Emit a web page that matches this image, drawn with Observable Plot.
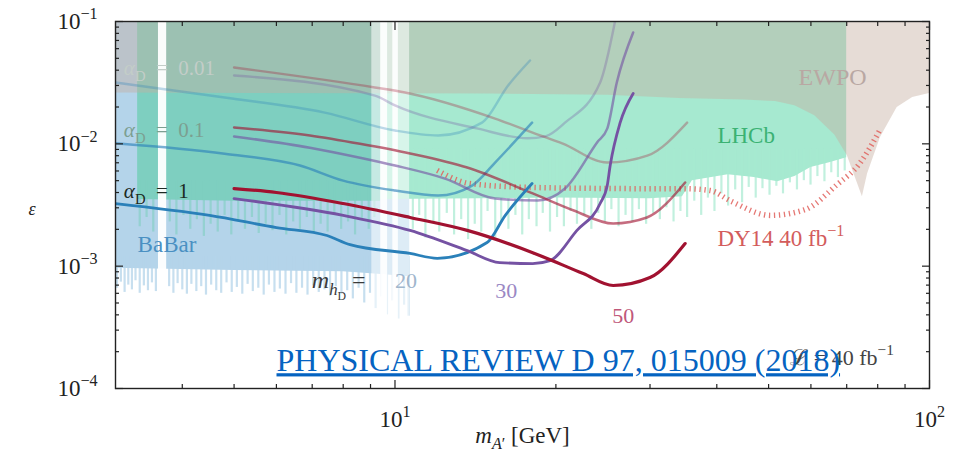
<!DOCTYPE html>
<html><head><meta charset="utf-8">
<script src="https://cdn.jsdelivr.net/npm/d3@7"></script>
<script src="https://cdn.jsdelivr.net/npm/@observablehq/plot@0.6"></script>
<style>html,body{margin:0;padding:0;background:#fff;} #chart{width:955px;height:464px;overflow:hidden}</style>
</head><body><div id="chart"></div>
<script>
// ---- sensitivity curves [m_A' (GeV), epsilon] ----
const alpha001_m20 = [[3,0.0317],[4.8,0.0239],[7.39,0.018],[10,0.01285],[12.04,0.0117],[14.55,0.0149],[16.28,0.030],[17.89,0.048]];
const alpha001_m30 = [[5,0.0362],[9.17,0.0248],[10,0.0206],[14.3,0.0133],[17.7,0.0111],[19.1,0.0115],[20.8,0.0149],[24.2,0.0317],[25.8,0.1]];
const alpha001_m50 = [[5,0.0421],[9.17,0.0289],[10.44,0.0263],[15.39,0.0161],[18.69,0.0117],[20.55,0.0101],[24.95,0.00703],[29.65,0.0080],[35.2,0.0149]];
const alpha01_m20 = [[3,0.0101],[4.8,0.0083],[6.64,0.00665],[8,0.0050],[10,0.00415],[12.04,0.00378],[13.94,0.00456],[15.39,0.00703],[18.05,0.0149]];
const alpha01_m30 = [[5,0.0115],[6.93,0.0093],[8.6,0.0077],[10,0.00665],[12.4,0.0052],[15.4,0.00357],[18.5,0.00344],[20.8,0.00431],[23.9,0.0103],[24.95,0.0133],[26.0,0.0317],[27.9,0.0813]];
const alpha01_m50 = [[5,0.0136],[6.93,0.0117],[8.6,0.0100],[10.67,0.00834],[13.65,0.0064],[18.1,0.00393],[21.6,0.00285],[25.6,0.00223],[29.6,0.0025],[34.9,0.00483]];
const alpha1_m20 = [[3,0.00325],[4.5,0.0026],[6,0.00207],[7.46,0.00178],[8.24,0.0015],[10.67,0.00127],[12,0.00116],[14.87,0.00156],[16.07,0.00259],[18.05,0.00474]];
const alpha1_m30 = [[5,0.00357],[8,0.0026],[10.67,0.00196],[13.65,0.00134],[15.7,0.00107],[18.1,0.00105],[19.5,0.00111],[21.9,0.00196],[24.2,0.00325],[24.95,0.00456],[25.27,0.00665],[26.38,0.0149],[27.9,0.0258]];
const alpha1_m50 = [[5,0.00431],[6,0.0040],[8,0.00325],[10.67,0.0025],[13.65,0.00196],[18.1,0.00129],[22.5,0.00087],[25.6,0.000695],[30,0.000807],[34.9,0.00153]];
const dy14 = [[12,0.00606],[13.8,0.00474],[18,0.0044],[30,0.0043],[35,0.0043],[38.9,0.00415],[42.5,0.0034],[50.5,0.0026],[58.5,0.0029],[67,0.0046],[74,0.0069],[81,0.0133]];

// ---- excluded regions: lower edges (upper edge = top of plot) ----
const ewpoEdge = [[3,0.026],[15,0.0255],[25,0.025],[34,0.0235],[45,0.0228],[51.5,0.0222],[56,0.0205],[61,0.017],[66.5,0.0118],[70.2,0.0080],[74.9,0.0037],[76.6,0.0057],[81,0.0113],[87,0.0198],[93,0.0239],[100,0.0258]];
const babarEdge = [[3.0,9.6e-4],[5,9.2e-4],[8,9.0e-4],[9.3,8.6e-4],[10.65,8.2e-4]];
const babarSpikes = [[3.02,6.6e-4],[3.07,7.4e-4],[3.12,6.1e-4],[3.17,7.0e-4],[3.22,6.4e-4],[3.27,7.6e-4],[3.33,6.0e-4],[3.39,6.9e-4],[3.45,6.3e-4],[3.51,7.3e-4],[3.57,6.2e-4],[3.78,6.8e-4],[3.85,6.0e-4],[3.92,7.2e-4],[4.0,6.4e-4],[4.08,5.9e-4],[4.16,7.1e-4],[4.25,6.2e-4],[4.34,6.8e-4],[4.43,5.8e-4],[4.53,7.0e-4],[4.63,6.3e-4],[4.73,6.0e-4],[4.84,7.3e-4],[4.95,6.1e-4],[5.06,6.7e-4],[5.18,5.9e-4],[5.3,7.1e-4],[5.42,6.2e-4],[5.55,6.6e-4],[5.68,5.8e-4],[5.81,7.0e-4],[5.95,6.1e-4],[6.09,6.5e-4],[6.24,5.9e-4],[6.39,7.2e-4],[6.54,6.0e-4],[6.7,6.6e-4],[6.86,5.8e-4],[7.03,6.9e-4],[7.2,6.1e-4],[7.38,6.4e-4],[7.56,5.7e-4],[7.75,6.8e-4],[7.94,5.9e-4],[8.14,6.3e-4],[8.34,5.4e-4],[8.55,6.6e-4],[8.76,5.0e-4],[8.98,6.0e-4],[9.2,4.5e-4],[9.43,5.6e-4],[9.66,4.0e-4],[9.9,5.2e-4],[10.15,3.7e-4],[10.4,4.8e-4],[10.6,3.9e-4]];
const lhcbLeftEdge = [[3.3,3.5e-3],[5,3.4e-3],[9.4,3.4e-3]];
const lhcbRightEdge = [[9.4,3.5e-3],[20,3.6e-3],[30,3.55e-3],[34.5,3.7e-3],[36,5.0e-3],[42,5.6e-3],[47,5.3e-3],[52,4.9e-3],[56,5.4e-3],[60,6.4e-3],[65,7.0e-3],[70,7.7e-3]];
const lhcbLeftSpikes = [[3.33,2.1e-3],[3.43,2.5e-3],[3.53,1.9e-3],[3.79,2.3e-3],[3.9,1.8e-3],[4.02,2.6e-3],[4.14,2.0e-3],[4.26,2.4e-3],[4.39,1.75e-3],[4.52,2.2e-3],[4.66,1.9e-3],[4.8,2.6e-3],[4.94,1.8e-3],[5.09,2.3e-3],[5.24,2.0e-3],[5.4,2.5e-3],[5.56,1.85e-3],[5.73,2.2e-3],[5.9,1.95e-3],[6.08,2.6e-3],[6.26,1.8e-3],[6.45,2.3e-3],[6.64,2.0e-3],[6.84,2.5e-3],[7.05,1.85e-3],[7.26,2.2e-3],[7.48,1.9e-3],[7.7,2.6e-3],[7.93,2.0e-3],[8.17,2.3e-3],[8.42,1.8e-3],[8.67,2.4e-3],[8.93,2.0e-3],[9.15,2.5e-3]];
const lhcbRightSpikes = [[10.8,2.0e-3],[11.1,2.6e-3],[11.4,1.7e-3],[11.8,2.3e-3],[12.1,1.9e-3],[12.5,2.7e-3],[12.9,1.8e-3],[13.3,2.4e-3],[13.7,1.65e-3],[14.1,2.2e-3],[14.5,1.9e-3],[14.9,2.8e-3],[15.4,1.7e-3],[15.8,2.3e-3],[16.3,2.0e-3],[16.8,2.6e-3],[17.3,1.8e-3],[17.8,2.4e-3],[18.4,2.1e-3],[18.9,2.7e-3],[19.5,1.9e-3],[20.1,2.5e-3],[20.7,2.1e-3],[21.3,2.8e-3],[21.9,2.2e-3],[22.6,2.6e-3],[23.3,2.0e-3],[24.0,2.7e-3],[24.7,2.3e-3],[25.4,2.9e-3],[26.2,2.1e-3],[27.0,2.6e-3],[27.8,2.3e-3],[28.6,2.9e-3],[29.5,2.2e-3],[30.4,2.7e-3],[31.3,2.4e-3],[32.2,3.0e-3],[33.2,2.3e-3],[34.2,2.8e-3],[35.2,2.5e-3],[36.3,3.4e-3],[37.4,2.6e-3],[38.5,3.6e-3],[39.6,2.8e-3],[40.8,3.9e-3],[42.0,3.1e-3],[43.3,4.2e-3],[44.6,3.3e-3],[45.9,4.4e-3],[47.3,3.6e-3],[48.7,4.3e-3],[50.2,3.8e-3],[51.7,4.5e-3],[53.2,3.9e-3],[54.8,4.8e-3],[56.5,4.2e-3],[58.2,5.0e-3],[59.9,4.6e-3],[61.7,5.4e-3],[63.6,4.9e-3],[65.5,5.8e-3],[67.4,5.3e-3],[69.4,6.0e-3]];
// resonance vetoes (psi', Upsilon)
const vetoFull = [[3.61,3.74],[9.4,9.7],[9.9,10.15]];
const vetoPartial = [[9.05,9.4],[9.7,9.9],[10.15,10.65]];

// ---- ticks ----
const xMajor = [10, 100];
const xMinor = [4,5,6,7,8,9,20,30,40,50,60,70,80,90];
const yMajor = [1e-4, 1e-3, 1e-2, 1e-1];
const yMinor = [2e-4,3e-4,4e-4,5e-4,6e-4,7e-4,8e-4,9e-4,2e-3,3e-3,4e-3,5e-3,6e-3,7e-3,8e-3,9e-3,2e-2,3e-2,4e-2,5e-2,6e-2,7e-2,8e-2,9e-2];

// ---- annotations ----
const alphaLabels = [{x:3.11,y:0.0413,t:"$α$_{D}\u2002=\u20020.01"},{x:3.11,y:0.0129,t:"$α$_{D}\u2002=\u20020.1"},{x:3.11,y:0.0041,t:"$α$_{D}\u2002=\u20021"}];
const regionLabels = [{x:3.3,y:1.5e-3,t:"BaBar"},{x:40.1,y:0.0117,t:"LHCb"},{x:56.9,y:0.0349,t:"EWPO"},{x:40.1,y:1.68e-3,t:"DY14 40 fb^{−1}"}];
const massLabels = [{x:10.0,y:7.6e-4,t:"20"},{x:15.4,y:6.3e-4,t:"30"},{x:25.5,y:3.95e-4,t:"50"}];

const SERIF = "'Liberation Serif','Times New Roman',serif";
const RED = "#a11230", PUR = "#7552a3", BLU = "#2a80b9";
const BABAR = "#b4d4ea", TEAL = "#7ecfc0", MINT = "#a6e9d0";
const X = d => d[0], Y = d => d[1];
const ln = (data, stroke, op, w) => Plot.line(data, {x: X, y: Y, stroke, strokeOpacity: op, strokeWidth: w, curve: "monotone-x", strokeLinejoin: "round", clip: true});
const lbl = (data, i, fill, fontSize) => Plot.text(data, {x: "x", y: "y", text: "t", textAnchor: "start", fontSize, fill, filter: (d, j) => j === i});
const axOpts = {stroke: "#222", strokeWidth: 1.2, fontSize: 23, fontFamily: SERIF, fill: "#222", label: null};

const chart = Plot.plot({
  width: 955, height: 464,
  marginLeft: 115, marginRight: 26, marginTop: 21, marginBottom: 76,
  x: {type: "log", domain: [3, 100]},
  y: {type: "log", domain: [1e-4, 0.1]},
  style: {fontFamily: SERIF, background: "white"},
  marks: [
    Plot.areaY(babarEdge, {x: X, y1: Y, y2: 0.1, fill: BABAR}),
    Plot.ruleX(babarSpikes, {x: X, y1: Y, y2: 1.2e-3, stroke: BABAR, strokeWidth: 2.2, strokeOpacity: 0.75}),
    Plot.areaY(lhcbLeftEdge, {x: X, y1: Y, y2: 0.1, fill: TEAL}),
    Plot.ruleX(lhcbLeftSpikes, {x: X, y1: Y, y2: 0.005, stroke: TEAL, strokeWidth: 2.2, strokeOpacity: 0.6}),
    Plot.areaY(lhcbRightEdge, {x: X, y1: Y, y2: 0.1, fill: MINT}),
    Plot.ruleX(lhcbRightSpikes, {x: X, y1: Y, y2: 0.009, stroke: MINT, strokeWidth: 2.2, strokeOpacity: 0.7}),
    Plot.areaY(ewpoEdge, {x: X, y1: Y, y2: 0.1, fill: "#c4ad9f", fillOpacity: 0.43}),
    Plot.rect(vetoPartial, {x1: X, x2: Y, fill: "white", fillOpacity: 0.55}),
    Plot.rect(vetoFull, {x1: X, x2: Y, fill: "white", fillOpacity: 0.95}),
    Plot.line(dy14, {x: X, y: Y, stroke: "#e0605c", strokeOpacity: 0.85, strokeWidth: 5.5, strokeDasharray: "1.3,3.7", strokeLinecap: "butt", curve: "monotone-x"}),
    ln(alpha001_m20, BLU, 0.3, 2.4), ln(alpha001_m30, PUR, 0.3, 2.4), ln(alpha001_m50, RED, 0.3, 2.4),
    ln(alpha01_m20, BLU, 0.62, 2.5), ln(alpha01_m30, PUR, 0.62, 2.5), ln(alpha01_m50, RED, 0.62, 2.5),
    ln(alpha1_m20, BLU, 1, 2.8), ln(alpha1_m30, PUR, 1, 2.8), ln(alpha1_m50, RED, 1, 3.2),
    // labels
    lbl(alphaLabels, 0, "#c3cdc8", 21), lbl(alphaLabels, 1, "#7c9f91", 21), lbl(alphaLabels, 2, "#1c2a22", 21),
    lbl(regionLabels, 0, "#4a90c2", 23), lbl(regionLabels, 1, "#3bb273", 23), lbl(regionLabels, 2, "#b9a8a3", 24), lbl(regionLabels, 3, "#d35c5c", 23),
    Plot.text([{x: 6.99, y: 7.6e-4, t: "$m$_{$h$_{D}} ="}], {x: "x", y: "y", text: "t", textAnchor: "start", fontSize: 24, fill: "#3a3a3a"}),
    lbl(massLabels, 0, "#9fb6cc", 22), lbl(massLabels, 1, "#9a88c4", 22), lbl(massLabels, 2, "#c0587a", 22),
    Plot.text([{x: 54.9, y: 1.79e-4, t: "ℒ = 40 fb^{−1}"}], {x: "x", y: "y", text: "t", textAnchor: "start", fontSize: 22, fill: "#444"}),
    // axes (inward ticks on all four sides)
    Plot.axisX(xMajor, {...axOpts, anchor: "bottom", tickSize: -8, tickPadding: 30, tickFormat: d => `10^{${Math.round(Math.log10(d))}}`}),
    Plot.axisX(xMinor, {...axOpts, anchor: "bottom", tickSize: -4, tickFormat: () => ""}),
    Plot.axisX(xMajor, {...axOpts, anchor: "top", tickSize: -8, tickFormat: () => ""}),
    Plot.axisX(xMinor, {...axOpts, anchor: "top", tickSize: -4, tickFormat: () => ""}),
    Plot.axisY(yMajor, {...axOpts, anchor: "left", tickSize: -8, tickPadding: 26, tickFormat: d => `10^{−${Math.round(-Math.log10(d))}}`}),
    Plot.axisY(yMinor, {...axOpts, anchor: "left", tickSize: -4, tickFormat: () => ""}),
    Plot.axisY(yMajor, {...axOpts, anchor: "right", tickSize: -8, tickFormat: () => ""}),
    Plot.axisY(yMinor, {...axOpts, anchor: "right", tickSize: -4, tickFormat: () => ""}),
    Plot.frame({stroke: "#222", strokeWidth: 1.4}),
    Plot.text(["$m$_{$A$′} [GeV]"], {text: d => d, frameAnchor: "bottom", dy: 54, fontSize: 23, fill: "#222"}),
    Plot.text(["$ε$"], {text: d => d, frameAnchor: "left", dx: -87, dy: 4, fontSize: 18, fill: "#222"}),
    Plot.text(["PHYSICAL REVIEW D 97, 015009 (2018)"], {text: d => d, frameAnchor: "top-left", dx: 161, dy: 327, textAnchor: "start", fontSize: 32, fill: "#0563c1"})
  ]
});
document.getElementById("chart").appendChild(chart);

// rich text: $..$ italic, ^{..} superscript, _{..} subscript
function parseRich(str, shift, scale, out, state) {
  let i = 0, buf = "";
  const flush = () => { if (buf) { out.push({text: buf, shift, scale, italic: state.italic}); buf = ""; } };
  while (i < str.length) {
    const c = str[i];
    if (c === "$") { flush(); state.italic = !state.italic; i++; continue; }
    if ((c === "^" || c === "_") && str[i + 1] === "{") {
      flush();
      let depth = 0, j = i + 1;
      for (; j < str.length; j++) {
        if (str[j] === "{") depth++;
        else if (str[j] === "}" && --depth === 0) break;
      }
      const inner = str.slice(i + 2, j);
      const ns = c === "^" ? shift - 0.42 * scale : shift + 0.28 * scale;
      parseRich(inner, ns, scale * 0.7, out, state);
      i = j + 1; continue;
    }
    buf += c; i++;
  }
  flush();
  return out;
}
const NS = "http://www.w3.org/2000/svg";
chart.querySelectorAll("text").forEach(t => {
  const s = t.textContent;
  if (s.startsWith("PHYSICAL")) { t.style.textDecoration = "underline"; return; }
  if (!/[_^$]/.test(s) || t.querySelector("tspan")) return;
  const fs = parseFloat(getComputedStyle(t).fontSize) || 20;
  const segs = parseRich(s, 0, 1, [], {italic: false});
  t.textContent = "";
  let prev = 0;
  for (const seg of segs) {
    const ts = document.createElementNS(NS, "tspan");
    ts.textContent = seg.text;
    ts.setAttribute("font-size", (fs * seg.scale).toFixed(2));
    const dy = (seg.shift - prev) * fs;
    if (Math.abs(dy) > 0.01) ts.setAttribute("dy", dy.toFixed(2));
    if (seg.italic) ts.setAttribute("font-style", "italic");
    prev = seg.shift;
    t.appendChild(ts);
  }
});
</script></body></html>
